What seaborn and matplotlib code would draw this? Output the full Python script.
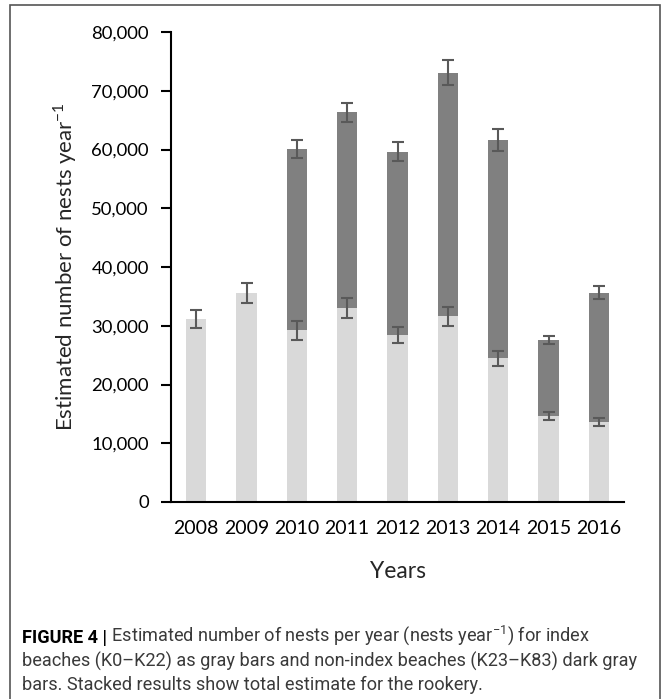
import numpy as np
import pandas as pd
import matplotlib
matplotlib.use('Agg')
import matplotlib.pyplot as plt
from matplotlib.patches import Rectangle
import seaborn as sns

# data
years = ['2008', '2009', '2010', '2011', '2012', '2013', '2014', '2015', '2016']
index_nests = [31200, 35600, 29200, 33000, 28400, 31600, 24500, 14600, 13600]
index_err = [1550, 1750, 1550, 1700, 1420, 1600, 1280, 700, 650]
total_years = ['2010', '2011', '2012', '2013', '2014', '2015', '2016']
total_nests = [60100, 66300, 59600, 73100, 61600, 27600, 35600]
total_err = [1600, 1670, 1600, 2150, 1870, 650, 1100]

light = '#d9d9d9'
dark = '#808080'
err_col = '#595959'

sns.set_style('white')
plt.rcParams['font.family'] = ['Lato', 'DejaVu Sans']

df_idx = pd.DataFrame({'year': years, 'nests': index_nests})
df_tot = pd.DataFrame({'year': total_years, 'nests': total_nests})

fig = plt.figure(figsize=(6.7, 6.99), dpi=100)
ax = fig.add_axes([171 / 670, 1 - 502 / 699, (624 - 171) / 670, (502 - 32) / 699])

# total (stacked) bars first, index bars drawn over them
sns.barplot(data=df_tot, x='year', y='nests', order=years, color=dark,
            width=0.4, saturation=1, ax=ax, errorbar=None, linewidth=0)
sns.barplot(data=df_idx, x='year', y='nests', order=years, color=light,
            width=0.4, saturation=1, ax=ax, errorbar=None, linewidth=0)

pos = {y: i for i, y in enumerate(years)}
ax.errorbar([pos[y] for y in years], index_nests, yerr=index_err, fmt='none',
            ecolor=err_col, elinewidth=1.5, capsize=4, capthick=1.5, zorder=5)
ax.errorbar([pos[y] for y in total_years], total_nests, yerr=total_err, fmt='none',
            ecolor=err_col, elinewidth=1.5, capsize=4, capthick=1.5, zorder=5)

ax.set_xlim(-0.5, 8.5)
ax.set_ylim(0, 80000)
ax.set_yticks(np.arange(0, 80001, 10000))
ax.set_yticklabels([f'{v:,}' for v in range(0, 80001, 10000)])
ax.set_xticks(np.arange(9))
ax.set_xticklabels(years)
ax.set_xticks(np.arange(-0.5, 9, 1), minor=True)
ax.tick_params(axis='x', which='major', length=0, pad=13, labelsize=14, colors='black')
ax.tick_params(axis='x', which='minor', length=7, width=1.5, color='black', direction='out')
ax.tick_params(axis='y', length=7, width=1.5, pad=9, labelsize=13.3, colors='black', left=True)

for s in ['top', 'right']:
    ax.spines[s].set_visible(False)
for s in ['left', 'bottom']:
    ax.spines[s].set_color('black')
    ax.spines[s].set_linewidth(1.5)

ax.set_xlabel('Years', fontsize=16.5, labelpad=17)
ax.set_ylabel(r'Estimated number of nests year$^{\mathregular{-1}}$', fontsize=16, labelpad=9)

# caption
cap_font = ['Roboto', 'DejaVu Sans']
cap_size = 13.1
t1 = fig.text(22 / 670, 1 - 643 / 699, 'FIGURE 4 |', fontsize=cap_size, fontweight='bold',
              family=cap_font, color='black', va='baseline')
ax.annotate(' Estimated number of nests per year (nests year$^{\\mathregular{-1}}$) for index',
            xy=(1, 0), xycoords=t1, va='bottom', ha='left', fontsize=cap_size,
            family=cap_font, color='#3a3a3a', annotation_clip=False)
fig.text(22 / 670, 1 - 667 / 699,
         'beaches (K0\u2013K22) as gray bars and non-index beaches (K23\u2013K83) dark gray',
         fontsize=cap_size, family=cap_font, color='#3a3a3a', va='baseline')
fig.text(22 / 670, 1 - 690 / 699,
         'bars. Stacked results show total estimate for the rookery.',
         fontsize=cap_size, family=cap_font, color='#3a3a3a', va='baseline')

fig.patches.append(Rectangle((10 / 670, -0.01), 650 / 670, 1 - 5 / 699 + 0.01,
                             transform=fig.transFigure, fill=False,
                             edgecolor='#555555', linewidth=1.2))

fig.savefig('out.png', dpi=100)
